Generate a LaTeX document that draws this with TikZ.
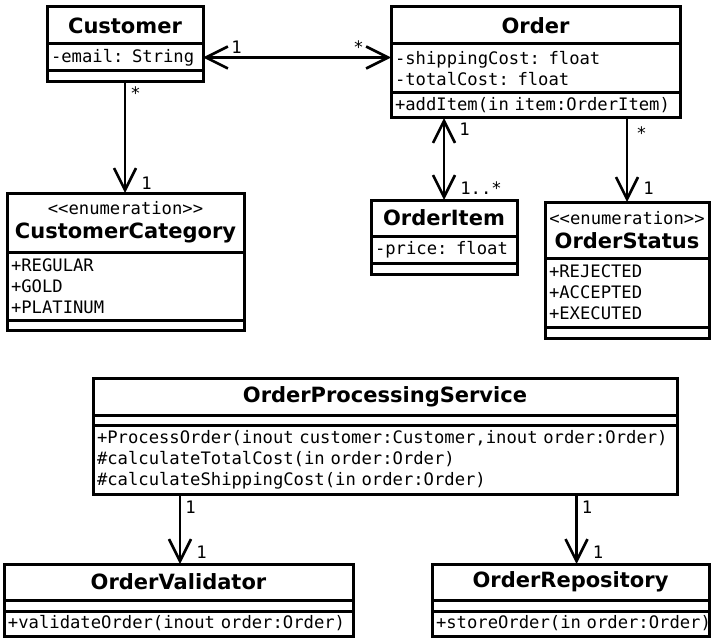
\documentclass[tikz,border=0pt]{standalone}
\usepackage{fontspec}
\setsansfont{DejaVu Sans}
\setmonofont{DejaVu Sans Mono}
\usepackage{tikz}
\usetikzlibrary{positioning,arrows.meta}
\newcommand{\classfont}{\sffamily\bfseries\fontsize{21}{24}\selectfont}
\newcommand{\memberfont}{\normalfont\ttfamily\fontsize{17.2}{21}\selectfont}
\tikzstyle{Cname}=[draw,line width=3pt,outer sep=0pt,inner xsep=4pt,inner ysep=0pt,align=center,font=\classfont]
\tikzstyle{Cpart}=[draw,line width=3pt,outer sep=0pt,inner xsep=4pt,inner ysep=0pt,align=left,font=\memberfont]
\tikzstyle{assoc}=[line width=2.6pt,-{Straight Barb[length=22pt,width=22pt]}]
\tikzstyle{biassoc}=[line width=2.6pt,{Straight Barb[length=22pt,width=22pt]}-{Straight Barb[length=22pt,width=22pt]}]
\tikzstyle{multS}=[anchor=base west,inner sep=0pt,font=\memberfont,xshift=4pt,yshift=-19pt]
\tikzstyle{multE}=[anchor=base west,inner sep=0pt,font=\memberfont,xshift=15pt,yshift=6pt]

\begin{document}
\begin{tikzpicture}[x=1pt,y=-1pt]
\useasboundingbox (0,0) rectangle (711,639);

% Customer
\node[Cname,minimum width=156pt,minimum height=37pt,anchor=north west] (custT) at (47,7) {Customer};
\node[Cpart,text width=148pt,minimum height=27pt,below=0pt of custT] (custA) {-email: String};
\node[Cpart,text width=148pt,minimum height=11pt,below=0pt of custA] (custM) {};

% Order
\node[Cname,minimum width=289pt,minimum height=37pt,anchor=north west] (ordT) at (391,7) {Order};
\node[Cpart,text width=281pt,minimum height=49pt,below=0pt of ordT] (ordA) {-shippingCost: float\\-totalCost: float};
\node[Cpart,text width=281pt,minimum height=25pt,below=0pt of ordA] (ordM) {+addItem(in item:OrderItem)};

% CustomerCategory
\node[Cname,minimum width=237pt,minimum height=59pt,anchor=north west] (ccT) at (7,193) {{\memberfont <<enumeration>>}\\CustomerCategory};
\node[Cpart,text width=229pt,minimum height=68pt,below=0pt of ccT] (ccA) {+REGULAR\\+GOLD\\+PLATINUM};
\node[Cpart,text width=229pt,minimum height=10pt,below=0pt of ccA] (ccM) {};

% OrderItem
\node[Cname,minimum width=146pt,minimum height=36pt,anchor=north west] (oiT) at (371,200) {OrderItem};
\node[Cpart,text width=138pt,minimum height=27pt,below=0pt of oiT] (oiA) {-price: float};
\node[Cpart,text width=138pt,minimum height=11pt,below=0pt of oiA] (oiM) {};

% OrderStatus
\node[Cname,minimum width=164pt,minimum height=56pt,anchor=north west] (osT) at (545,202) {{\memberfont <<enumeration>>}\\OrderStatus};
\node[Cpart,text width=156pt,minimum height=69pt,below=0pt of osT] (osA) {+REJECTED\\+ACCEPTED\\+EXECUTED};
\node[Cpart,text width=156pt,minimum height=11pt,below=0pt of osA] (osM) {};

% OrderProcessingService
\node[Cname,minimum width=584pt,minimum height=37pt,anchor=north west] (opsT) at (93,378) {OrderProcessingService};
\node[Cpart,text width=576pt,minimum height=10pt,below=0pt of opsT] (opsA) {};
\node[Cpart,text width=576pt,minimum height=69pt,below=0pt of opsA] (opsM) {+ProcessOrder(inout~customer:Customer,inout~order:Order)\\\#calculateTotalCost(in order:Order)\\\#calculateShippingCost(in order:Order)};

% OrderValidator
\node[Cname,minimum width=349pt,minimum height=36pt,anchor=north west] (ovT) at (4,564) {OrderValidator};
\node[Cpart,text width=341pt,minimum height=11pt,below=0pt of ovT] (ovA) {};
\node[Cpart,text width=341pt,minimum height=25pt,below=0pt of ovA] (ovM) {+validateOrder(inout order:Order)};

% OrderRepository
\node[Cname,minimum width=277pt,minimum height=36pt,anchor=north west] (orT) at (432,564) {OrderRepository};
\node[Cpart,text width=269pt,minimum height=11pt,below=0pt of orT] (orA) {};
\node[Cpart,text width=269pt,minimum height=25pt,below=0pt of orA] (orM) {+storeOrder(in~order:Order)};

\coordinate (ovIn) at ([xshift=1.5pt]ovT.north);
\coordinate (orIn) at ([xshift=6pt]orT.north);

\path
(custA.east) edge [biassoc] node[at start,anchor=base west,inner sep=0pt,font=\memberfont,xshift=27pt,yshift=4pt] {1}
                            node[at end,anchor=base east,inner sep=0pt,font=\memberfont,xshift=-26pt,yshift=4pt] {*} (custA.east -| ordT.west)
(custM.south) edge [assoc] node[multS,at start,yshift=1pt] {*} node[multE,at end,yshift=-2pt] {1} (custM.south |- ccT.north)
(oiT.north |- ordM.south) edge [biassoc] node[multS,at start,xshift=10pt,yshift=1pt] {1} node[multE,at end] {1..*} (oiT.north)
(osT.north |- ordM.south) edge [assoc] node[multS,at start,xshift=4pt,yshift=-3pt] {*} node[multE,at end,yshift=2pt] {1} (osT.north)
(ovIn |- opsM.south) edge [assoc] node[multS,at start] {1} node[multE,at end] {1} (ovIn)
(orIn |- opsM.south) edge [assoc] node[multS,at start] {1} node[multE,at end] {1} (orIn);

\end{tikzpicture}
\end{document}
